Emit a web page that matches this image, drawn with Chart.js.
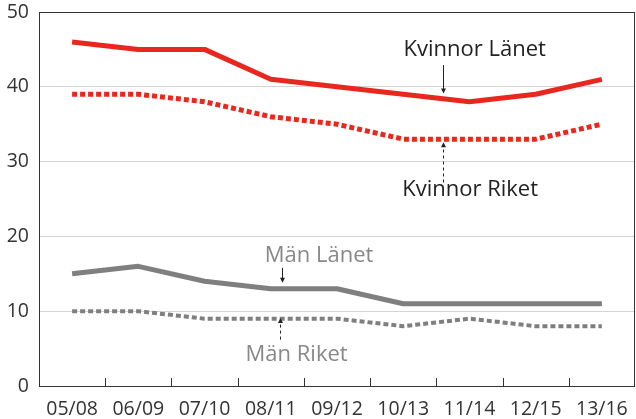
<!DOCTYPE html>
<html lang="sv">
<head>
    <meta charset="UTF-8">
    <title>Kvinnor och män, länet och riket</title>
    <script src="https://cdn.jsdelivr.net/npm/chart.js"></script>
    <style>
        html, body { margin: 0; padding: 0; background: #fff; }
        #wrap { width: 636px; height: 419px; }
    </style>
</head>
<body>
    <div id="wrap"><canvas id="chart" width="636" height="419"></canvas></div>

    <script>
        // Data
        const periods = ['05/08', '06/09', '07/10', '08/11', '09/12', '10/13', '11/14', '12/15', '13/16'];
        const kvinnorLanet = [46, 45, 45, 41, 40, 39, 38, 39, 41];
        const kvinnorRiket = [39, 39, 38, 36, 35, 33, 33, 33, 35];
        const manLanet = [15, 16, 14, 13, 13, 11, 11, 11, 11];
        const manRiket = [10, 10, 9, 9, 9, 8, 9, 8, 8];
        const yTicks = [0, 10, 20, 30, 40, 50];

        const RED = '#e8281f';
        const GRAY = '#7f7f7f';
        const FONT = '"Open Sans", sans-serif';

        // labels with arrows, placed in data space (category index, value)
        const notes = [
            { text: 'Kvinnor Länet', color: '#222', x: 6.08, y: 45, ax: 5.6, from: 42.9, to: 39.1, dashed: false },
            { text: 'Kvinnor Riket', color: '#222', x: 6.01, y: 26.2, ax: 5.6, from: 27.2, to: 32.6, dashed: true },
            { text: 'Män Länet', color: '#888', x: 3.73, y: 17.4, ax: 3.17, from: 15.8, to: 13.8, dashed: false },
            { text: 'Män Riket', color: '#888', x: 3.39, y: 4.2, ax: 3.14, from: 6.2, to: 9.1, dashed: true }
        ];

        const frame = {
            id: 'frame',
            afterDraw(chart) {
                const { ctx, chartArea: a, scales: { x, y } } = chart;
                ctx.save();
                // box round the plot
                ctx.strokeStyle = '#333';
                ctx.lineWidth = 1;
                ctx.strokeRect(a.left + 0.5, a.top + 0.5, a.right - a.left - 1, a.bottom - a.top);
                // inward tick marks between categories
                ctx.beginPath();
                for (let i = 0; i < periods.length - 1; i++) {
                    const px = Math.round((x.getPixelForValue(i) + x.getPixelForValue(i + 1)) / 2) + 0.5;
                    ctx.moveTo(px, a.bottom);
                    ctx.lineTo(px, a.bottom - 8);
                }
                ctx.stroke();

                // annotations
                ctx.font = '22px ' + FONT;
                ctx.textAlign = 'center';
                ctx.textBaseline = 'middle';
                notes.forEach(n => {
                    ctx.fillStyle = n.color;
                    ctx.fillText(n.text, x.getPixelForValue(n.x), y.getPixelForValue(n.y));
                    const ax = Math.round(x.getPixelForValue(n.ax)) + 0.5;
                    const y0 = y.getPixelForValue(n.from);
                    const y1 = y.getPixelForValue(n.to);
                    const dir = y1 > y0 ? 1 : -1;
                    ctx.strokeStyle = '#222';
                    ctx.fillStyle = '#222';
                    ctx.lineWidth = 1;
                    ctx.setLineDash(n.dashed ? [3, 3] : []);
                    ctx.beginPath();
                    ctx.moveTo(ax, y0);
                    ctx.lineTo(ax, y1 - dir * 3);
                    ctx.stroke();
                    ctx.setLineDash([]);
                    ctx.beginPath();
                    ctx.moveTo(ax, y1);
                    ctx.lineTo(ax - 2.5, y1 - dir * 5);
                    ctx.lineTo(ax + 2.5, y1 - dir * 5);
                    ctx.closePath();
                    ctx.fill();
                });
                ctx.restore();
            }
        };

        new Chart(document.getElementById('chart'), {
            type: 'line',
            data: {
                labels: periods,
                datasets: [
                    { label: 'Kvinnor Länet', data: kvinnorLanet, borderColor: RED, borderWidth: 5 },
                    { label: 'Kvinnor Riket', data: kvinnorRiket, borderColor: RED, borderWidth: 5, borderDash: [5, 3] },
                    { label: 'Män Länet', data: manLanet, borderColor: GRAY, borderWidth: 5 },
                    { label: 'Män Riket', data: manRiket, borderColor: GRAY, borderWidth: 4, borderDash: [5, 3] }
                ]
            },
            options: {
                responsive: false,
                animation: false,
                layout: { padding: { left: 0, right: 1, top: 12, bottom: 0 } },
                elements: {
                    point: { radius: 0 },
                    line: { tension: 0, borderCapStyle: 'butt', borderJoinStyle: 'round', fill: false }
                },
                plugins: {
                    legend: { display: false },
                    tooltip: { enabled: false }
                },
                scales: {
                    x: {
                        offset: true,
                        grid: { display: false },
                        border: { display: false },
                        ticks: { color: '#333', font: { family: FONT, size: 19.5 }, padding: 4, maxRotation: 0 },
                        afterFit(s) { s.height = 33; s.paddingLeft = 0; s.paddingRight = 0; }
                    },
                    y: {
                        min: 0,
                        max: 50,
                        afterBuildTicks(s) { s.ticks = yTicks.map(v => ({ value: v })); },
                        grid: { color: '#d4d4d4', lineWidth: 1, drawTicks: false },
                        border: { display: false },
                        ticks: { color: '#333', font: { family: FONT, size: 19.5 }, padding: 10 },
                        afterFit(s) { s.width = 39; s.paddingTop = 0; s.paddingBottom = 0; }
                    }
                }
            },
            plugins: [frame]
        });
    </script>
</body>
</html>
